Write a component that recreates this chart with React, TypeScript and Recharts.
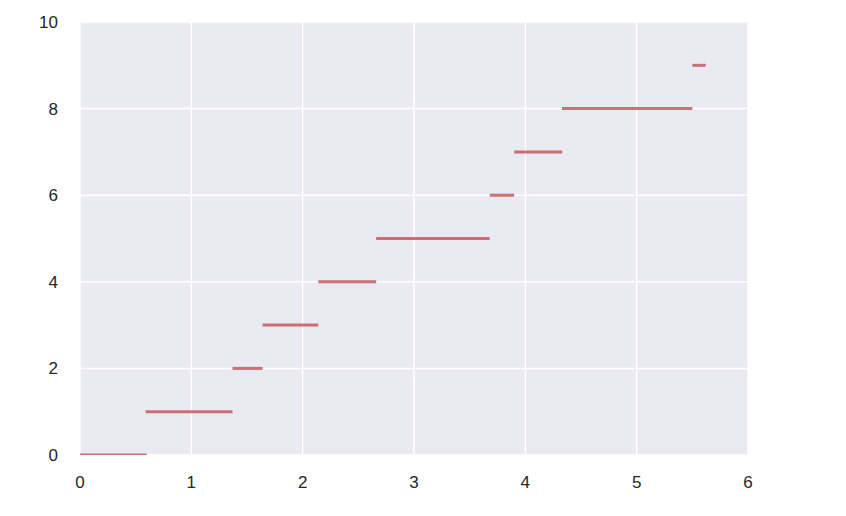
import { Line, LineChart, CartesianGrid, XAxis, YAxis } from "recharts";

// step levels and where each one starts / ends on the x axis
const levels = [0, 1, 2, 3, 4, 5, 6, 7, 8, 9];
const starts = [0, 0.59, 1.37, 1.64, 2.14, 2.66, 3.68, 3.9, 4.33, 5.5];
const ends = [0.6, 1.37, 1.64, 2.14, 2.66, 3.68, 3.9, 4.33, 5.5, 5.62];
const xTicks = [0, 1, 2, 3, 4, 5, 6];
const yTicks = [0, 2, 4, 6, 8, 10];

const segments = levels.map((y, i) => [
  { x: starts[i], y },
  { x: ends[i], y },
]);

const tickStyle = { fill: "#262626", fontSize: 17, fontFamily: "Liberation Sans, Arial, sans-serif" };

const App = () => {
  return (
    <div style={{ position: "absolute", left: 0, top: 0, width: 846, height: 516, background: "#fff" }}>
      <LineChart width={846} height={516} margin={{ top: 22, right: 98, bottom: 21, left: 20 }}>
        <CartesianGrid fill="#EAEAF2" stroke="#ffffff" strokeWidth={1.5} />
        <XAxis
          type="number"
          dataKey="x"
          domain={[0, 6]}
          ticks={xTicks}
          axisLine={false}
          tickLine={false}
          tickSize={0}
          tickMargin={21}
          tick={tickStyle}
          allowDataOverflow
          height={40}
        />
        <YAxis
          type="number"
          dataKey="y"
          domain={[0, 10]}
          ticks={yTicks}
          axisLine={false}
          tickLine={false}
          tickSize={0}
          tickMargin={22}
          tick={tickStyle}
          allowDataOverflow
          width={60}
        />
        {segments.map((seg, i) => (
          <Line
            key={i}
            data={seg}
            dataKey="y"
            type="linear"
            stroke="#C44E52"
            strokeOpacity={0.8}
            strokeWidth={3}
            dot={false}
            isAnimationActive={false}
          />
        ))}
      </LineChart>
    </div>
  );
};

export default App;
